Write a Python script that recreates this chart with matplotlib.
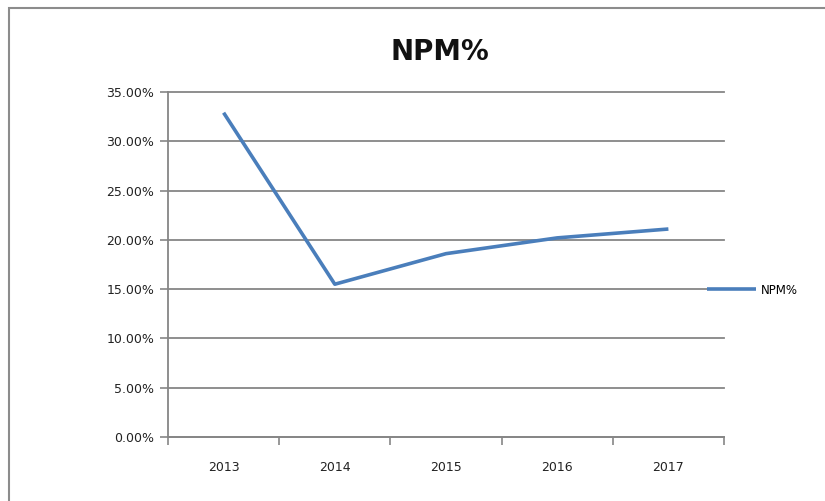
import matplotlib
matplotlib.use("Agg")
import matplotlib.pyplot as plt
from matplotlib.patches import Rectangle
from matplotlib.ticker import FuncFormatter, FixedLocator

years = ["2013", "2014", "2015", "2016", "2017"]
npm = [32.9, 15.5, 18.6, 20.2, 21.1]
series_name = "NPM%"
title = "NPM%"

fig = plt.figure(figsize=(8.25, 5.01), dpi=100)
fig.patch.set_facecolor("white")
fig.add_artist(Rectangle((9 / 825, -0.01), 1.0, 1 - 8 / 501 + 0.01, transform=fig.transFigure,
                         fill=False, edgecolor="#8c8c8c", linewidth=1.5))

ax = fig.add_axes([168 / 825, 1 - 437 / 501, (724 - 168) / 825, (437 - 92) / 501])
x = list(range(len(years)))
line, = ax.plot(x, npm, color="#4a7ebb", linewidth=2.6, label=series_name, solid_capstyle="butt")

ax.set_xlim(-0.5, len(years) - 0.5)
ax.set_ylim(0, 35)
ax.set_yticks([0, 5, 10, 15, 20, 25, 30, 35])
ax.yaxis.set_major_formatter(FuncFormatter(lambda v, p: f"{v:.2f}%"))
ax.grid(axis="y", color="#868686", linewidth=1.3)
for gl in ax.get_ygridlines():
    gl.set_clip_on(False)
ax.set_axisbelow(True)

ax.set_xticks(x)
ax.set_xticklabels(years)
ax.xaxis.set_minor_locator(FixedLocator([i - 0.5 for i in range(len(years) + 1)]))
ax.tick_params(axis="x", which="major", length=0, pad=17, labelsize=9, labelcolor="#222222")
ax.tick_params(axis="x", which="minor", length=6, width=1.2, color="#868686", direction="out")
ax.tick_params(axis="y", length=6, width=1.2, color="#868686", direction="out", labelsize=9,
               labelcolor="#222222", pad=4)

for s in ["top", "right"]:
    ax.spines[s].set_visible(False)
for s in ["left", "bottom"]:
    ax.spines[s].set_color("#868686")
    ax.spines[s].set_linewidth(1.3)

fig.text(440 / 825, 1 - 52 / 501, title, ha="center", va="center", fontsize=20, fontweight="bold",
         color="#111111")

leg = ax.legend(loc="center left", bbox_to_anchor=(701 / 825, 1 - 290 / 501), bbox_transform=fig.transFigure,
                frameon=False, fontsize=8.5, handlelength=4.2, handletextpad=0.35, borderpad=0)

fig.savefig("out.png", dpi=100)
